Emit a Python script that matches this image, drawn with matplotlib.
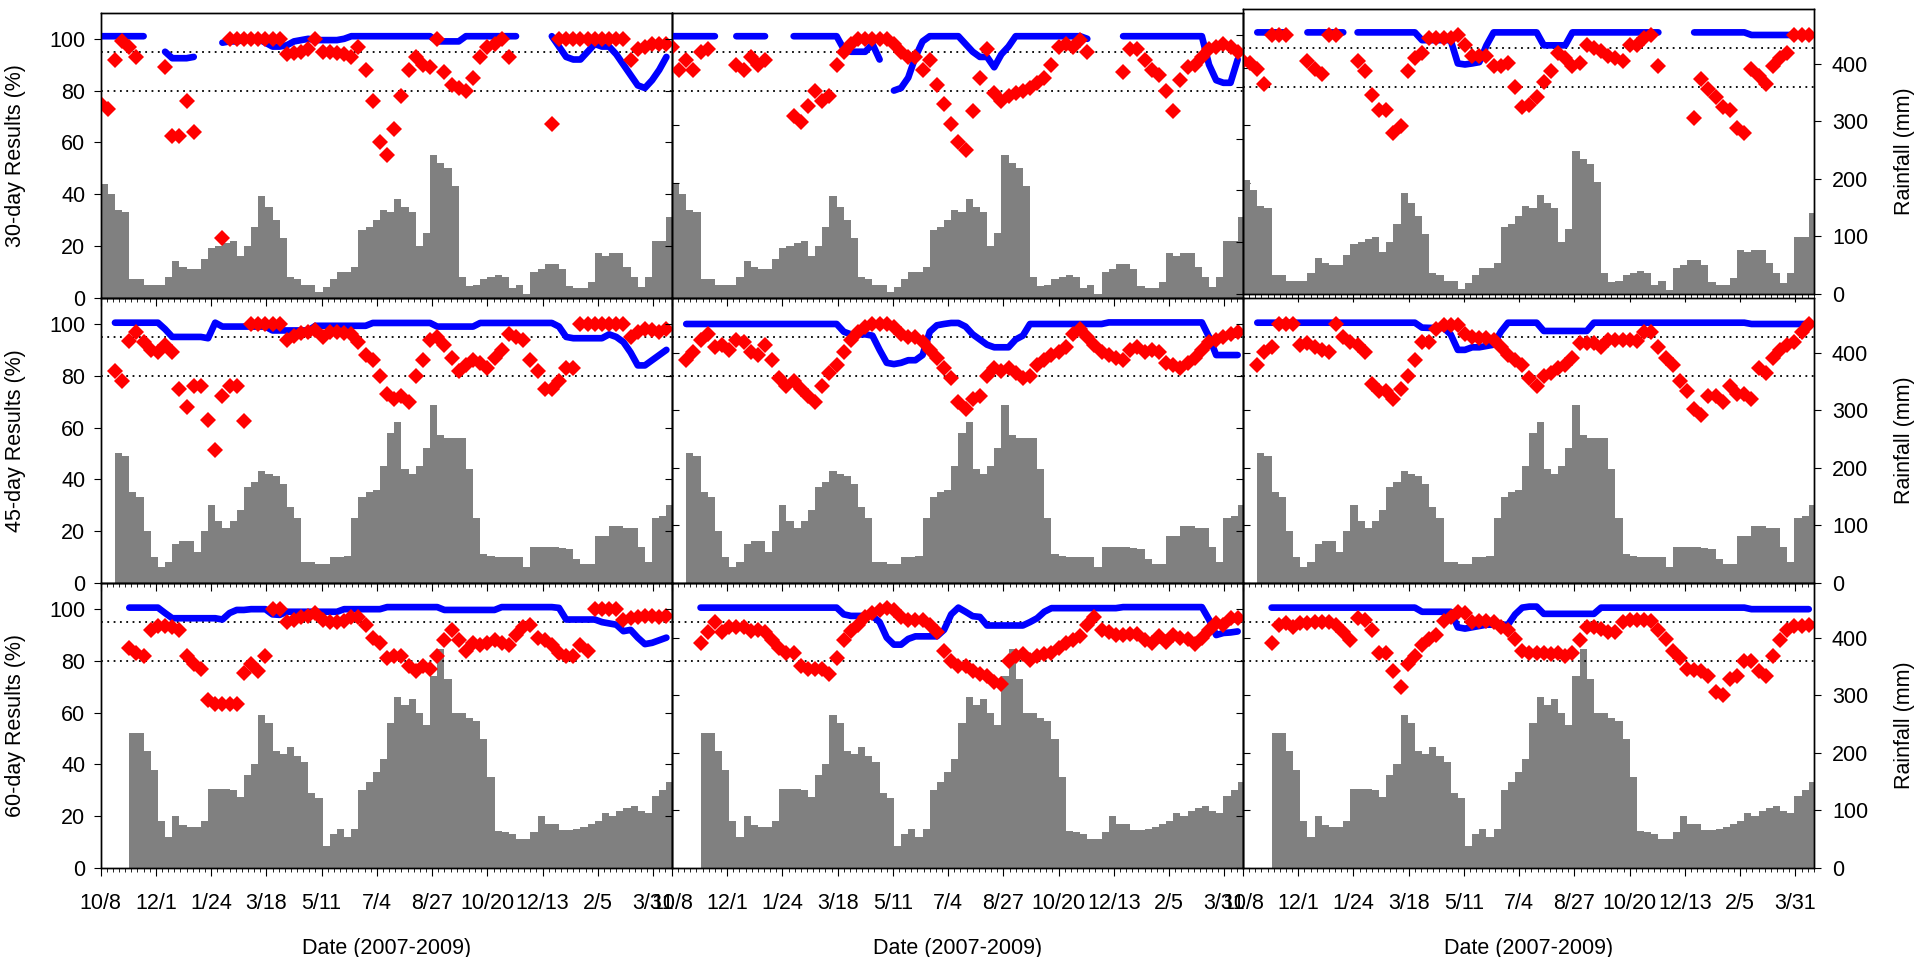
import numpy as np
import matplotlib.pyplot as plt
from matplotlib.ticker import MultipleLocator

nan = np.nan

# one value per week, starting 10/8/2007
tick_labels = ['10/8', '12/1', '1/24', '3/18', '5/11', '7/4', '8/27', '10/20', '12/13', '2/5', '3/31']
row_labels = ['30-day Results (%)', '45-day Results (%)', '60-day Results (%)']

# rainfall totals (mm) over the moving window
rain_30 = [198, 180, 153, 149, 32, 32, 22, 22, 22, 36,
           63, 54, 50, 50, 68, 86, 90, 95, 99, 72,
           90, 122, 176, 158, 135, 104, 36, 32, 22, 22,
           9, 18, 32, 45, 45, 54, 117, 122, 135, 153,
           149, 171, 158, 149, 90, 112, 248, 234, 225, 194,
           36, 20, 22, 32, 36, 40, 36, 16, 22, 7,
           45, 50, 59, 59, 50, 20, 16, 16, 27, 77,
           72, 77, 77, 54, 36, 18, 36, 99, 99, 140]
rain_45 = [0, 0, 225, 220, 158, 149, 90, 45, 27, 36,
           68, 72, 72, 54, 90, 135, 108, 95, 108, 126,
           167, 176, 194, 189, 185, 171, 131, 112, 36, 36,
           32, 32, 45, 45, 47, 112, 149, 158, 162, 203,
           261, 279, 198, 189, 203, 234, 310, 257, 252, 252,
           252, 198, 112, 50, 47, 45, 45, 45, 45, 27,
           63, 63, 63, 63, 61, 59, 41, 32, 32, 81,
           81, 99, 99, 95, 95, 63, 36, 112, 117, 135]
rain_60 = [0, 0, 0, 0, 234, 234, 203, 171, 81, 54,
           90, 75, 72, 72, 81, 138, 138, 138, 135, 124,
           162, 180, 266, 252, 203, 198, 210, 194, 185, 131,
           122, 39, 59, 68, 54, 68, 135, 149, 167, 189,
           252, 297, 284, 293, 270, 248, 333, 380, 328, 270,
           270, 261, 256, 225, 158, 65, 63, 59, 50, 50,
           63, 90, 77, 77, 66, 66, 68, 72, 77, 81,
           95, 90, 99, 104, 108, 99, 95, 126, 135, 149]

# blue series (%)
blue_30_1 = [101] * 7 + [nan] * 2 + [95, 92.5, 92.5, 92.5, 93] + [nan] * 3 + \
    [98.5, 99, 99, 99.5, 100, 100, 98.5, 97, 97, 97.5, 99, 99.5, 100, 99.5, 99.5, 99.5, 99.5, 100] + \
    [101] * 12 + [99, 99, 99, 99] + [101] * 8 + [nan] * 4 + \
    [101, 97, 93, 92, 92, 95, 98, 97, 97, 94, 90, 86, 82, 81, 84, 88, 93]
blue_30_2 = [101] * 7 + [nan] * 2 + [101] * 5 + [nan] * 3 + [101] * 7 + \
    [96, 95, 95, 95, 98, 92] + [nan] + [80, 81, 85, 93, 99] + [101] * 5 + \
    [98, 95, 93, 93, 89, 94, 97] + [101] * 10 + [100] + [nan] * 4 + [101] * 12 + \
    [90, 84, 83, 83, 92]
blue_30_3 = [nan] * 2 + [101] * 5 + [nan] * 2 + [101] * 6 + [nan] + [101] * 9 + \
    [98] * 5 + [89, 88.6, 89, 89.5] + [96] + [101] * 7 + [96] * 4 + [101] * 13 + \
    [nan] * 4 + [101] * 8 + [100] * 9
blue_45_1 = [nan] * 2 + [100.5] * 7 + [98] + [95] * 5 + [94.5, 100.5] + [99] * 7 + \
    [97.5] * 6 + [99.3] * 8 + [100.4] * 9 + [99] * 6 + [100.4] * 11 + \
    [99, 95, 94.5, 94.5, 94.5, 94.5, 94.5, 96, 95, 93, 89, 84, 84, 86, 88, 90]
blue_45_2 = [nan] * 2 + [100] * 22 + \
    [97, 96, 96, 96, 95.5, 90, 85, 84.5, 85, 86, 86, 88, 97, 99.5, 100, 100.4, 100.4,
     99, 96, 94, 92, 91, 91, 91, 94, 95.5] + \
    [100] * 11 + [100.6] * 14 + [95, 88, 88, 88, 88]
blue_45_3 = [nan] * 2 + [100.5] * 23 + \
    [98.6, 98.5, 98.5, 98.5, 96, 90, 90, 91, 91, 91.5, 92, 97] + \
    [100.5] * 5 + [97.3] * 7 + [100.5] * 22 + [100] * 9
blue_60_1 = [nan] * 4 + [100.6] * 5 + [98.5] + [96.5] * 7 + \
    [96, 98.5, 99.7, 99.7, 100, 100, 100, 98, 97.8] + [99] * 8 + [100] * 6 + \
    [100.8] * 8 + [99.7] * 8 + [100.8] * 8 + [100.5] + [96] * 5 + \
    [95, 94.5, 94, 91.5, 92, 89, 86.5, 87, 88, 89]
blue_60_2 = [nan] * 4 + [100.6] * 20 + [98] + [97.4] * 4 + \
    [95, 89, 86.3, 86.3, 88.5, 89.5, 89.5, 89.5, 89.5, 92, 98, 100.6, 99, 97.3, 97] + \
    [93.7] * 6 + [95, 96.5, 99] + [100.4] * 10 + [100.8] * 12 + [96, 90, 90.8, 91, 91.4]
blue_60_3 = [nan] * 4 + [100.6] * 21 + [99] * 5 + [93, 92.5, 93, 93.5] + [94] * 4 + \
    [98, 100.6, 101, 101] + [98.2] * 8 + [100.6] * 21 + [100] * 9

# red series (%)
red_30_1 = [75, 73, 92, 99, 97, 93, nan, nan, nan, 89,
            62.5, 62.5, 76, 64, nan, nan, nan, 23, 100, 100,
            100, 100, 100, 100, 100, 100, 94, 94.5, 95, 96,
            100, 95, 95, 94.5, 94, 93, 97, 88, 76, 60,
            55, 65, 78, 88, 93, 90, 89, 100, 87, 82,
            81, 80, 85, 93, 97, 98, 100, 93, nan, nan,
            nan, nan, nan, 67, 100, 100, 100, 100, 100, 100,
            100, 100, 100, 100, 92, 96, 97, 98, 98, 98]
red_30_2 = [97, 88, 92, 88, 95, 96, nan, nan, nan, 90,
            88, 93, 90, 92, nan, nan, nan, 70, 68, 74,
            80, 76, 78, 90, 95, 98, 100, 100, 100, 100,
            100, 98, 95, 93, 93, 88, 92, 82, 75, 67,
            60, 57, 72, 85, 96, 79, 76, 78, 79, 80,
            81, 83, 85, 90, 97, 98, 97, 99.5, 95, nan,
            nan, nan, nan, 87, 96, 96, 92, 88, 86, 80,
            72, 84, 89, 90, 93, 96, 97, 98, 97, 95]
red_30_3 = [90, 89, 87, 81, 100, 100, 100, nan, nan, 90,
            87, 85, 100, 100, nan, nan, 90, 86, 77, 71,
            71, 62, 65, 86, 91, 93, 99, 99, 99, 99,
            100, 96, 92, 92, 92, 88, 88, 89, 80, 72,
            73, 76, 82, 86, 93, 91, 88, 89, 96, 95,
            94, 92, 91, 90, 96, 96, 99, 100, 88, nan,
            nan, nan, nan, 68, 83, 79, 76, 72, 71, 64,
            62, 87, 84, 81, 88, 91, 93, 100, 100, 100]
red_45_1 = [nan, nan, 82, 78, 93.5, 97, 93, 90, 89, 92,
            89, 75, 68, 76, 76, 63, 51.5, 72, 76, 76,
            62.5, 100, 100, 100, 100, 100, 94, 95.5, 96.5, 97,
            97.5, 95, 97, 97, 96.5, 96, 93, 88, 86, 80,
            73, 71, 72, 70, 80, 86, 94, 95, 92, 87,
            82, 84, 86, 85, 83, 87, 90, 96, 95, 94,
            86, 82, 75, 75, 78, 83, 83, 100, 100, 100,
            100, 100, 100, 100, 95, 97, 98, 97.5, 97, 98]
red_45_2 = [nan, nan, 86, 89, 94, 96, 91, 92, 90, 94,
            93, 89, 88, 92, 86, 79, 76, 78, 75, 72,
            70, 76, 81, 84, 89, 94, 97, 99, 100, 100,
            100, 99, 96, 95, 95, 93, 90, 87, 83, 79,
            70, 67, 71, 72, 80, 83, 82, 83, 81, 79,
            80, 84, 86, 88, 89, 91, 96, 98, 95, 92,
            89, 88, 87, 86, 90, 91, 89, 90, 89, 85,
            84, 83, 85, 87, 90, 93, 94, 95, 96, 97]
red_45_3 = [nan, nan, 84, 89, 91, 100, 100, 100, 92, 92.5,
            91, 90, 89, 100, 95, 93, 92, 89, 77, 74,
            74, 71, 75, 80, 86, 93, 93, 98, 99.5, 99.5,
            99.5, 96, 95, 94.5, 94.5, 94, 91, 88, 86, 84,
            79, 76, 80, 81, 83, 84, 87, 92.5, 92.5, 92.5,
            91, 94, 94, 94, 94, 93.5, 97, 97, 91, 87,
            84, 78, 74, 67, 65, 72, 72, 70, 76, 73,
            73, 71, 83, 81, 87, 90, 92, 93, 97, 100]
red_60_1 = [nan, nan, nan, nan, 85, 83, 82, 92, 93.5, 93.5,
            93, 92, 82, 79, 77, 65, 63.5, 63.5, 63.5, 63.5,
            75.5, 79, 76, 82, 100, 100, 95, 96, 97, 97.5,
            98.5, 96, 95, 95, 95.5, 97, 97, 94, 89, 87,
            81, 82, 82, 78, 76, 78, 77, 82, 88, 92,
            88, 84, 87, 86, 87, 88, 87, 86, 90, 93,
            94, 89, 88, 86, 83, 82, 82, 86, 84, 100,
            100, 100, 100, 96, 96.5, 97, 97.5, 97.5, 97, 97.5]
red_60_2 = [nan, nan, nan, nan, 87, 91, 95, 91, 93, 93,
            93, 91.5, 92, 91, 88, 85, 83, 83, 78, 77,
            77, 77, 75, 81, 88, 91.5, 94, 97, 98.5, 99.5,
            100.4, 99.5, 97, 96, 96, 96, 94, 91, 84, 80,
            78, 78, 76, 75, 74, 72, 71, 80, 82, 82.5,
            80.5, 82, 82.5, 83, 85, 87, 88, 89.5, 94, 97,
            92, 91, 90, 90, 90.5, 90.5, 88, 87, 89.5, 87.5,
            90, 89, 88.5, 86.5, 89, 92, 94.5, 94, 96.5, 96.5]
red_60_3 = [nan, nan, nan, nan, 87, 94, 94.5, 93, 94.5, 94.5,
            95, 95, 95, 94, 91, 88, 96.5, 96, 92, 83,
            83, 76, 70, 79, 82, 86, 88.5, 90, 95.5, 97,
            99, 98.5, 95, 95.5, 95.5, 95, 93, 92, 88.5, 84,
            83, 83, 83, 82.5, 83, 82, 83, 88, 93, 93,
            92.5, 91, 91, 95, 96, 96, 96, 95.5, 92, 88.5,
            84, 81, 77, 76.5, 76, 74, 68, 67, 73, 74,
            80, 80, 76, 74, 82, 88, 92, 93.5, 93.5, 94]

rain = [rain_30, rain_45, rain_60]
blue = [[blue_30_1, blue_30_2, blue_30_3],
        [blue_45_1, blue_45_2, blue_45_3],
        [blue_60_1, blue_60_2, blue_60_3]]
red = [[red_30_1, red_30_2, red_30_3],
       [red_45_1, red_45_2, red_45_3],
       [red_60_1, red_60_2, red_60_3]]

days = np.arange(80) * 7

plt.rcParams['font.family'] = ['Liberation Sans', 'DejaVu Sans']
plt.rcParams['font.size'] = 15.5

fig = plt.figure(figsize=(19.17, 9.57), dpi=100, facecolor='white')

lefts = [0.0525, 0.3505, 0.6484]
bottoms = [0.689, 0.391, 0.093]
width = 0.2978
height = 0.2975

for r in range(3):
    for c in range(3):
        b = bottoms[r] + (0.004 if (r == 0 and c == 2) else 0)
        ax = fig.add_axes([lefts[c], b, width, height])
        ax2 = ax.twinx()
        ax.set_zorder(ax2.get_zorder() + 1)
        ax.patch.set_visible(False)
        ax2.patch.set_visible(False)

        ax2.bar(days, rain[r], width=7, align='edge', color='#808080', linewidth=0)

        ax.axhline(95, color='black', ls=(0, (1, 2.5)), lw=1.3)
        ax.axhline(80, color='black', ls=(0, (1, 2.5)), lw=1.3)
        ax.plot(days, blue[r][c], color='#0000FF', lw=4.8, solid_capstyle='round')
        ax.plot(days, red[r][c], 'D', color='#FF0000', ms=7.8, mew=0)

        ax.set_xlim(0, 558)
        ax.set_xticks(np.arange(11) * 54)
        ax.set_xticklabels(tick_labels if r == 2 else [])
        ax.xaxis.set_minor_locator(MultipleLocator(6))
        ax.tick_params(axis='x', which='major', length=6, pad=12)
        ax.tick_params(axis='x', which='minor', length=3)

        ax.set_ylim(0, 110)
        ax.set_yticks(range(0, 101, 20))
        if c != 0:
            ax.set_yticklabels([])
        ax.tick_params(axis='y', length=5, pad=6)

        ax2.set_ylim(0, 495)
        ax2.set_yticks(range(0, 401, 100))
        if c != 2:
            ax2.set_yticklabels([])
        ax2.tick_params(axis='y', length=5, pad=8)

        for a in (ax, ax2):
            for s in a.spines.values():
                s.set_linewidth(1.0)

        if c == 0:
            ax.set_ylabel(row_labels[r])
            ax.yaxis.set_label_coords(-0.13, 0.5)
        if c == 2:
            ax2.set_ylabel('Rainfall (mm)')
            ax2.yaxis.set_label_coords(1.14, 0.5)
        if r == 2:
            ax.set_xlabel('Date (2007-2009)')
            ax.xaxis.set_label_coords(0.5, -0.245)

fig.savefig('out.png', dpi=100, facecolor='white')
